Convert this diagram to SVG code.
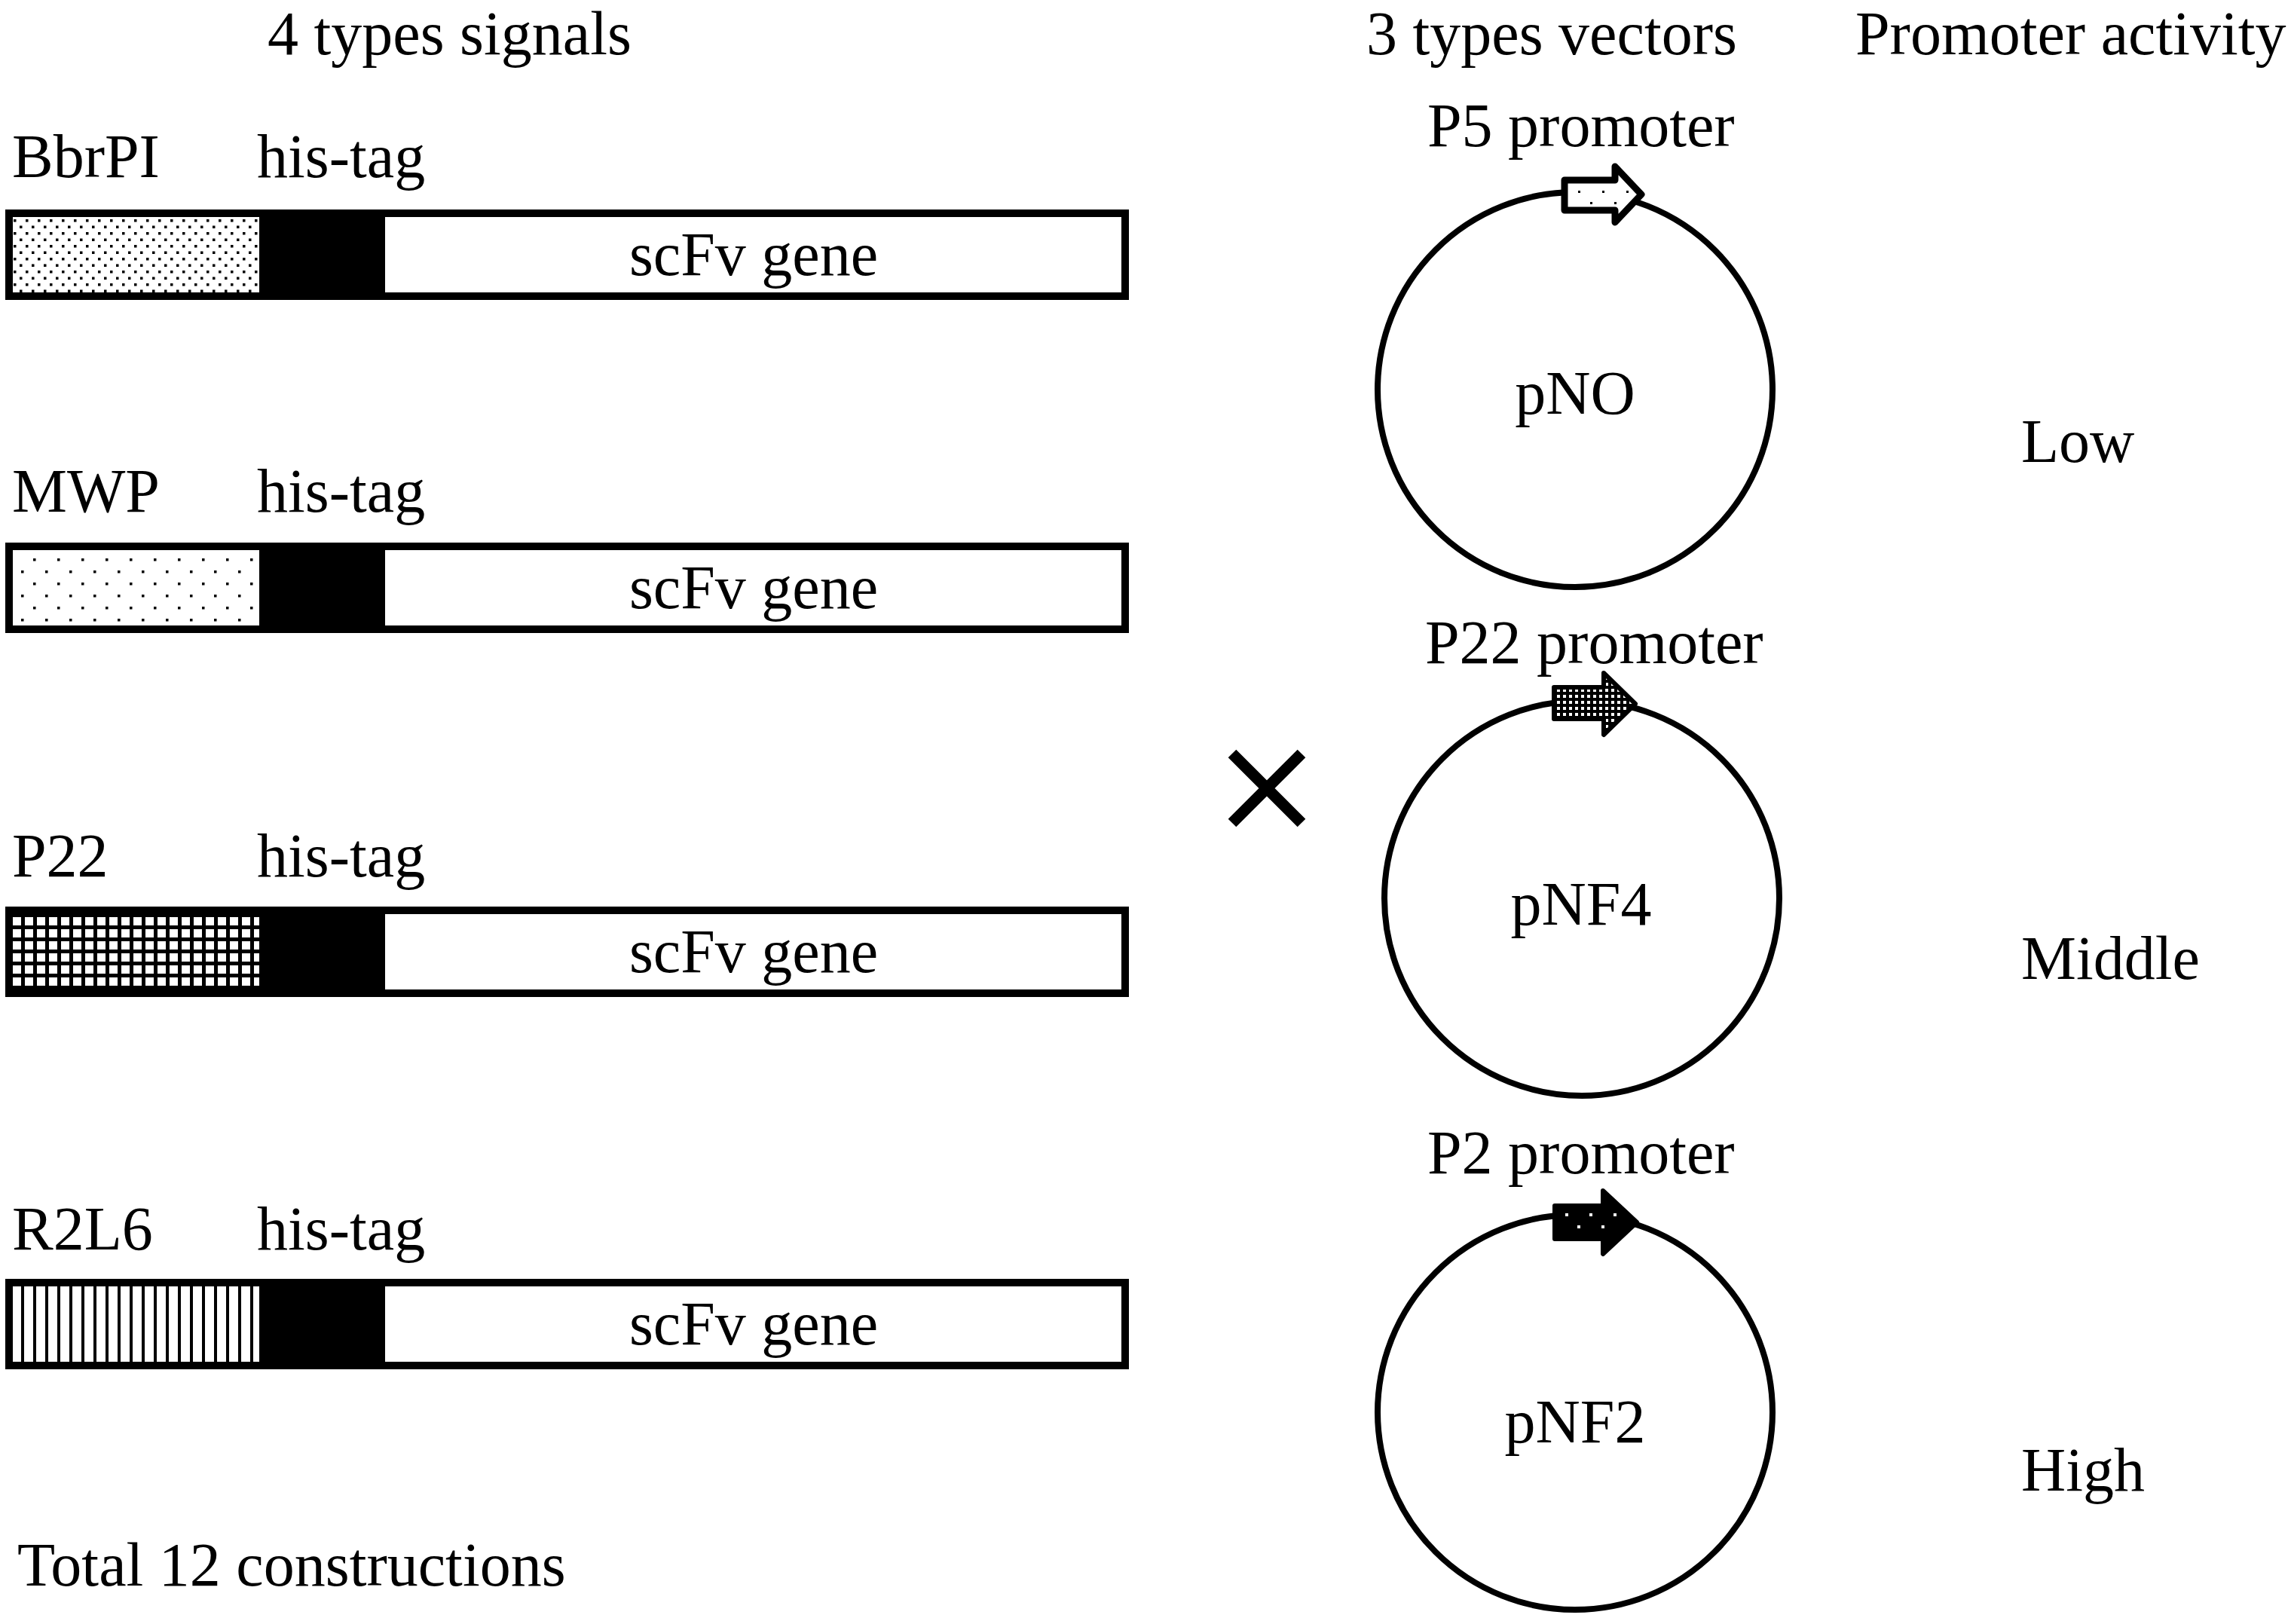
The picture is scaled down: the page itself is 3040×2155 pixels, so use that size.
<svg xmlns="http://www.w3.org/2000/svg" width="3040" height="2155" viewBox="0 0 3040 2155">
<style>
text{font-family:"Liberation Serif","Times New Roman",serif;font-size:82px;fill:#000}
.m{text-anchor:middle}
.bar{fill:#fff;stroke:#000;stroke-width:10}
.circ{fill:none;stroke:#000;stroke-width:8}
</style>
<defs>
<pattern id="pDense" width="16" height="17" patternUnits="userSpaceOnUse">
<rect x="2" y="2" width="3.5" height="3.5"/><rect x="10" y="10.5" width="3.5" height="3.5"/>
</pattern>
<pattern id="pSparse" width="32" height="32" patternUnits="userSpaceOnUse">
<rect x="12" y="5" width="3.5" height="3.5"/><rect x="28" y="21" width="3.5" height="3.5"/>
</pattern>
<pattern id="pGrid" width="16" height="16" patternUnits="userSpaceOnUse">
<rect width="16" height="16" fill="#000"/><rect x="1" y="1" width="11" height="11" fill="#fff"/>
</pattern>
<pattern id="pStripe" width="16" height="16" patternUnits="userSpaceOnUse">
<rect width="16" height="16" fill="#fff"/><rect x="12" y="0" width="4" height="16" fill="#000"/>
</pattern>
<pattern id="pArrDense" width="8" height="8" patternUnits="userSpaceOnUse">
<rect width="8" height="8" fill="#000"/><rect x="2" y="2" width="4" height="4" fill="#fff"/>
</pattern>
</defs>
<rect width="3040" height="2155" fill="#fff"/>

<g id="headers">
<text x="355" y="72">4 types signals</text>
<text x="1813" y="72">3 types vectors</text>
<text x="2462" y="72">Promoter activity</text>
<text x="23" y="2104">Total 12 constructions</text>
</g>

<g id="construct-BbrPI">
<text x="16" y="235">BbrPI</text><text x="341" y="235">his-tag</text>
<rect class="bar" x="12" y="283" width="1481" height="110"/>
<rect x="17" y="288" width="327" height="100" fill="url(#pDense)"/>
<rect x="344" y="288" width="167" height="100"/>
<text class="m" x="1000" y="365">scFv gene</text>
</g>
<g id="construct-MWP">
<text x="16" y="679">MWP</text><text x="341" y="679">his-tag</text>
<rect class="bar" x="12" y="725" width="1481" height="110"/>
<rect x="17" y="730" width="327" height="100" fill="url(#pSparse)"/>
<rect x="344" y="730" width="167" height="100"/>
<text class="m" x="1000" y="807">scFv gene</text>
</g>
<g id="construct-P22">
<text x="16" y="1163">P22</text><text x="341" y="1163">his-tag</text>
<rect class="bar" x="12" y="1208" width="1481" height="110"/>
<rect x="17" y="1213" width="327" height="100" fill="url(#pGrid)"/>
<rect x="344" y="1213" width="167" height="100"/>
<text class="m" x="1000" y="1290">scFv gene</text>
</g>
<g id="construct-R2L6">
<text x="16" y="1658">R2L6</text><text x="341" y="1658">his-tag</text>
<rect class="bar" x="12" y="1702" width="1481" height="110"/>
<rect x="17" y="1707" width="327" height="100" fill="url(#pStripe)"/>
<rect x="344" y="1707" width="167" height="100"/>
<text class="m" x="1000" y="1784">scFv gene</text>
</g>

<g id="cross">
<path d="M1635 1000 L1727 1092 M1727 1000 L1635 1092" stroke="#000" stroke-width="15"/>
</g>

<g id="vector-pNO">
<circle class="circ" cx="2090" cy="517" r="262"/>
<text x="1894" y="194">P5 promoter</text>
<path d="M2076 239 H2143 V221 L2178 258 L2143 295 V279 H2076 Z" fill="#fff" stroke="#000" stroke-width="9" stroke-linejoin="round"/>
<rect x="2094" y="253" width="3" height="3"/><rect x="2126" y="253" width="3" height="3"/><rect x="2158" y="253" width="3" height="3"/>
<rect x="2110" y="268" width="3" height="3"/><rect x="2142" y="268" width="3" height="3"/>
<text class="m" x="2090" y="549">pNO</text>
<text x="2682" y="613">Low</text>
</g>
<g id="vector-pNF4">
<circle class="circ" cx="2099" cy="1192" r="262"/>
<text x="1891" y="880">P22 promoter</text>
<path d="M2062 912 H2128 V893 L2170 934 L2128 975 V954 H2062 Z" fill="url(#pArrDense)" stroke="#000" stroke-width="6" stroke-linejoin="round"/>
<text class="m" x="2098" y="1227">pNF4</text>
<text x="2682" y="1299">Middle</text>
</g>
<g id="vector-pNF2">
<circle class="circ" cx="2090" cy="1874" r="262"/>
<text x="1894" y="1557">P2 promoter</text>
<path d="M2063 1600 H2127 V1580 L2172 1622 L2127 1664 V1644 H2063 Z" fill="#000" stroke="#000" stroke-width="6" stroke-linejoin="round"/>
<g fill="#fff"><rect x="2077" y="1610" width="4" height="4"/><rect x="2109" y="1610" width="4" height="4"/><rect x="2141" y="1610" width="4" height="4"/><rect x="2093" y="1626" width="4" height="4"/><rect x="2125" y="1626" width="4" height="4"/></g>
<text class="m" x="2090" y="1914">pNF2</text>
<text x="2682" y="1978">High</text>
</g>
<g id="connectors"></g>
</svg>
